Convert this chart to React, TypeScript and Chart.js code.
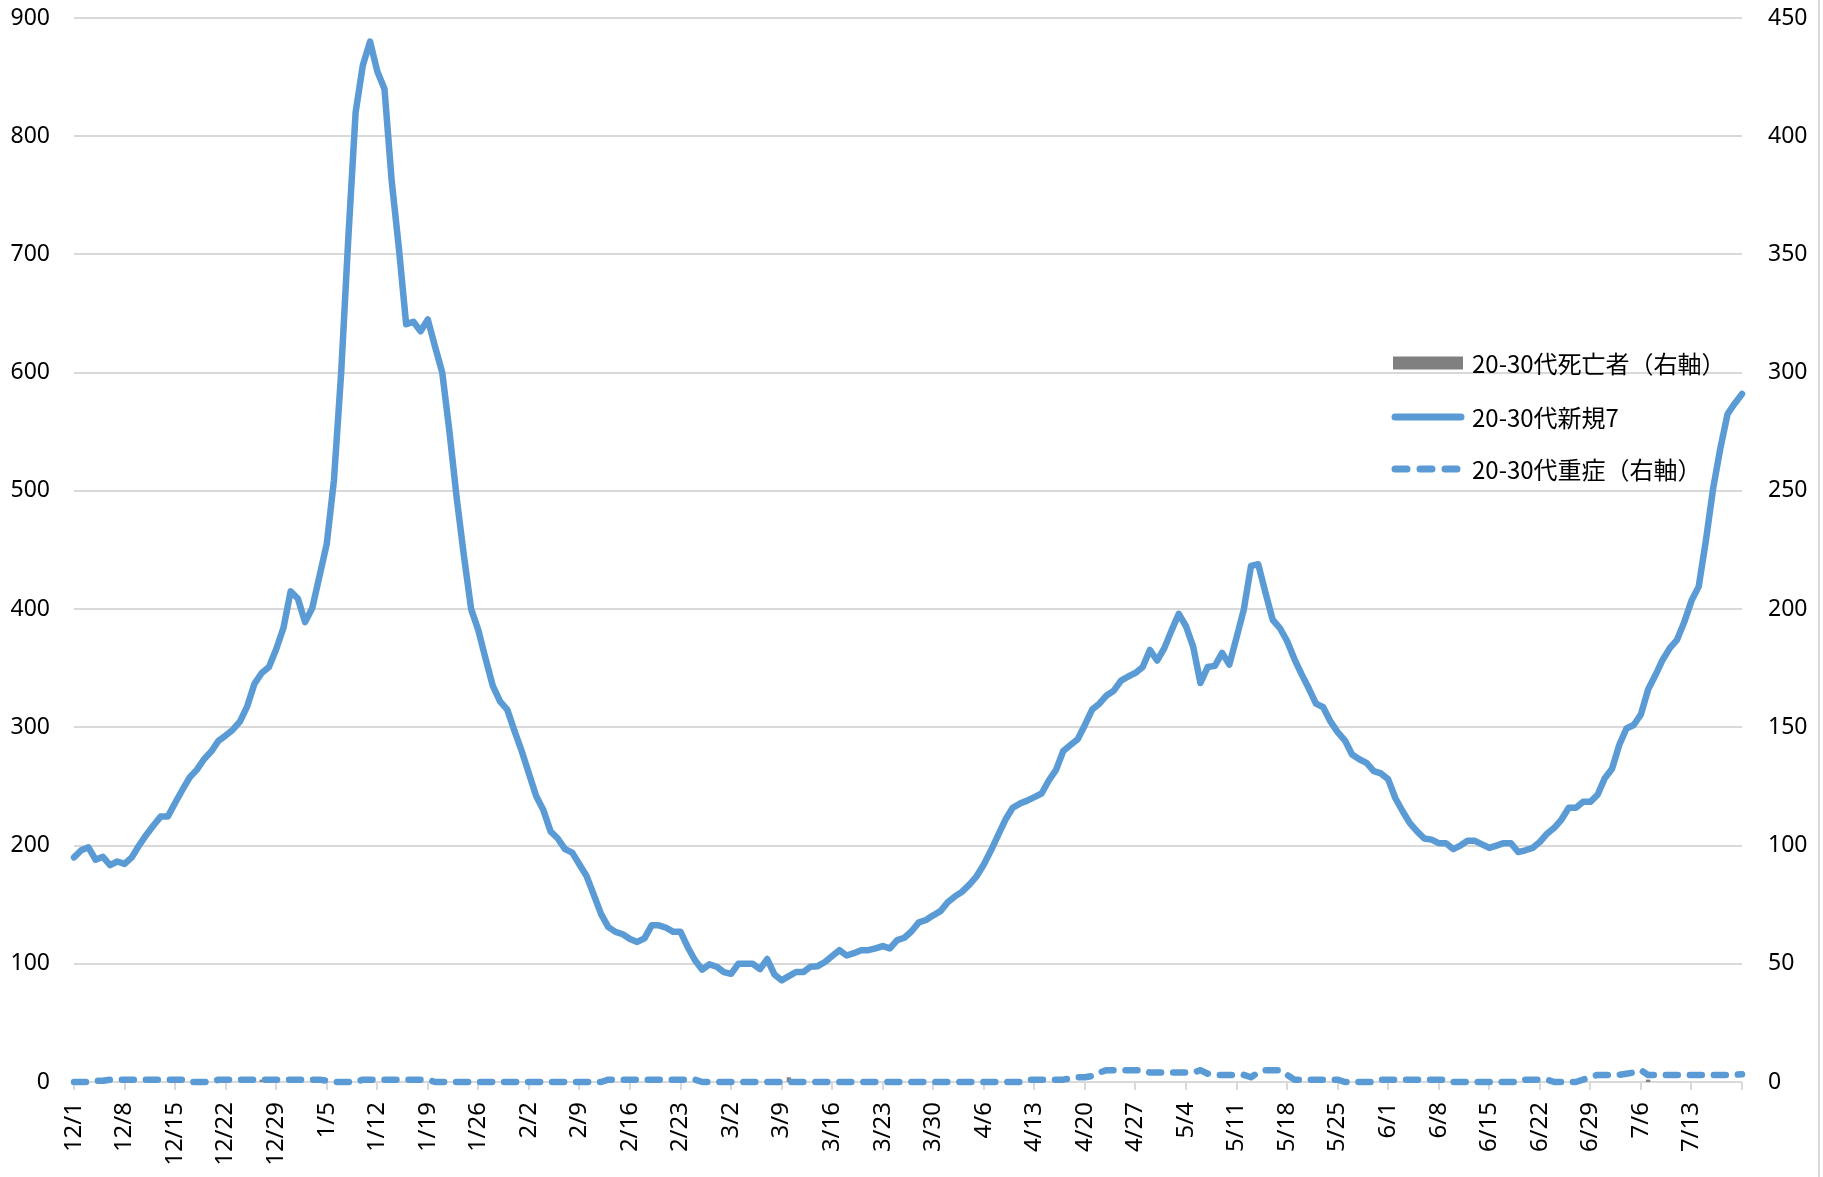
import React, { useEffect, useRef } from "react";
import { Chart, registerables } from "chart.js";

Chart.register(...registerables);

// ---------- data ----------
// daily categories 2021-12-01 .. 2022-07-20
const categories: string[] = [];
for (let i = 0; i < 232; i++) {
  const d = new Date(2021, 11, 1 + i);
  categories.push(`${d.getMonth() + 1}/${d.getDate()}`);
}
const LABEL_EVERY = 7;
const LAST_LABEL_INDEX = 224; // 7/13

const seriesNames = ["20-30代死亡者（右軸）", "20-30代新規7", "20-30代重症（右軸）"];

// 20-30代新規7 (left axis)
const newCases7: number[] = [
  190, 196, 198.5, 188, 190.5, 183.5, 186.5, 184.5, 190, 200,
  209, 217, 224.5, 224.5, 236, 247, 257.5, 264, 273, 279.5,
  288.5, 293, 298, 305, 318, 337, 346, 351, 366, 384,
  415, 409, 389, 401, 428, 455, 509, 600, 715, 820,
  860, 880, 855, 840, 762, 705, 641, 643, 635, 645,
  622, 600, 550, 494, 445, 400, 382, 358, 335, 322,
  315, 297, 280, 261, 242, 230, 212, 206, 197, 194,
  184, 174, 158, 142, 131, 127, 125, 121, 118.5, 121.5,
  132.5, 132.5, 130.5, 127, 127, 114, 103, 95, 99.5, 97.5,
  93, 91.5, 100, 100, 100, 95.5, 104, 91, 86, 89.5,
  93, 93, 97.5, 98, 101.5, 106.5, 111.5, 107, 109, 111.5,
  111.5, 113, 115, 113, 120, 122, 127.5, 135, 137, 141,
  144.5, 152, 157, 161, 167, 174, 184, 196, 209, 222,
  232, 235.5, 238, 241, 244, 255, 264, 280, 285, 290,
  302, 315, 320, 327, 331, 339.5, 343, 346, 351, 365.5,
  356.5, 367, 382, 396, 385.5, 368, 337.5, 351, 352, 363,
  353, 376, 399.5, 436.5, 438, 414, 391, 384, 373, 358,
  345, 333, 320, 317, 305, 296, 289, 277, 273, 270,
  263, 261, 256, 240, 229, 219, 212, 206, 205, 202,
  202, 197, 200, 204, 204, 201, 198, 200, 202, 202,
  194.5, 196, 198, 203, 210, 215, 222, 232, 232, 237,
  237, 243, 257, 265, 285, 299, 302, 311, 332, 344,
  357, 367, 374, 389, 407, 419, 458, 502, 536, 565,
  574, 582,
];

// 20-30代重症 (right axis)
const severeRight: number[] = [
  0, 0, 0, 0.5, 0.5, 1, 1, 1, 1, 1,
  1, 1, 1, 1, 1, 1, 0, 0, 0, 0,
  1, 1, 1, 1, 1, 1, 1, 1, 1, 1,
  1, 1, 1, 1, 1, 0.5, 0, 0, 0, 0,
  1, 1, 1, 1, 1, 1, 1, 1, 1, 1,
  0, 0, 0, 0, 0, 0, 0, 0, 0, 0,
  0, 0, 0, 0, 0, 0, 0, 0, 0, 0,
  0, 0, 0, 0, 1, 1, 1, 1, 1, 1,
  1, 1, 1, 1, 1, 1, 1, 0, 0, 0,
  0, 0, 0, 0, 0, 0, 0, 0, 0, 0,
  0, 0, 0, 0, 0, 0, 0, 0, 0, 0,
  0, 0, 0, 0, 0, 0, 0, 0, 0, 0,
  0, 0, 0, 0, 0, 0, 0, 0, 0, 0,
  0, 0, 1, 1, 1, 1, 1, 1, 1.5, 2,
  2, 2.5, 4, 5, 5, 5, 5, 5, 5, 4,
  4, 4, 4, 4, 4, 4, 5, 3.5, 3, 3,
  3, 3, 3, 2, 4, 5, 5, 5, 3, 1,
  1, 1, 1, 1, 1, 1, 0, 0, 0, 0,
  0, 1, 1, 1, 1, 1, 1, 1, 1, 1,
  1, 0, 0, 0, 0, 0, 0, 0, 0, 0,
  0, 1, 1, 1, 1, 0, 0, 0, 0, 1,
  2, 3, 3, 3, 3, 3.5, 4, 5, 3, 3,
  3, 3, 3, 3, 3, 3, 3, 3, 3, 3,
  3, 3.3,
];

// 20-30代死亡者 (right axis)
const deathsRight: number[] = new Array(232).fill(0);
const deathDays: number[] = [26, 40, 50, 99, 218];
const deathCounts: number[] = [1, 1, 1, 2, 1];
deathDays.forEach((d, k) => (deathsRight[d] = deathCounts[k]));

// ---------- styles ----------
const BLUE = "#5B9BD5";
const GRAY = "#808080";
const GRID = "#d9d9d9";
const TEXT = "#000000";

const legendPlugin = {
  id: "customLegend",
  afterDraw(chart: any) {
    const ctx = chart.ctx as CanvasRenderingContext2D;
    const x0 = 1393;
    const x1 = 1463;
    const tx = 1472;
    const rows = [363, 417, 469];
    ctx.save();
    // bar sample
    ctx.fillStyle = GRAY;
    ctx.fillRect(x0, rows[0] - 6.5, x1 - x0, 13);
    // solid line sample
    ctx.strokeStyle = BLUE;
    ctx.lineWidth = 7;
    ctx.lineCap = "round";
    ctx.beginPath();
    ctx.moveTo(x0 + 2, rows[1]);
    ctx.lineTo(x1 - 2, rows[1]);
    ctx.stroke();
    // dashed sample
    ctx.setLineDash([12, 13]);
    ctx.beginPath();
    ctx.moveTo(x0 + 2, rows[2]);
    ctx.lineTo(x1 - 6, rows[2]);
    ctx.stroke();
    ctx.setLineDash([]);
    // labels
    ctx.fillStyle = TEXT;
    ctx.font = '24px "Noto Sans CJK JP", "Noto Sans", sans-serif';
    ctx.textBaseline = "middle";
    ctx.textAlign = "left";
    seriesNames.forEach((n, k) => ctx.fillText(n, tx, rows[k] + 1));
    // outer chart border on the right
    ctx.strokeStyle = GRID;
    ctx.lineWidth = 2;
    ctx.beginPath();
    ctx.moveTo(1819, 0);
    ctx.lineTo(1819, 1177);
    ctx.stroke();
    ctx.restore();
  },
};

export default function App() {
  const ref = useRef<HTMLCanvasElement>(null);

  useEffect(() => {
    const canvas = ref.current;
    if (!canvas) return;
    const tickFont = { family: '"Noto Sans", sans-serif', size: 23 };
    const chart = new Chart(canvas, {
      type: "line",
      data: {
        labels: categories,
        datasets: [
          {
            type: "bar",
            label: seriesNames[0],
            data: deathsRight,
            backgroundColor: GRAY,
            yAxisID: "y1",
            order: 3,
            barPercentage: 0.6,
            categoryPercentage: 1,
          } as any,
          {
            type: "line",
            label: seriesNames[1],
            data: newCases7,
            borderColor: BLUE,
            backgroundColor: BLUE,
            borderWidth: 6.5,
            pointRadius: 0,
            tension: 0,
            borderJoinStyle: "round",
            borderCapStyle: "round",
            yAxisID: "y",
            order: 1,
            clip: false,
          } as any,
          {
            type: "line",
            label: seriesNames[2],
            data: severeRight,
            borderColor: BLUE,
            backgroundColor: BLUE,
            borderWidth: 6.5,
            borderDash: [12, 12],
            borderCapStyle: "round",
            borderJoinStyle: "round",
            pointRadius: 0,
            tension: 0,
            yAxisID: "y1",
            order: 2,
            clip: false,
          } as any,
        ],
      },
      options: {
        responsive: false,
        animation: false,
        devicePixelRatio: 1,
        layout: { padding: { top: 18, left: 0, right: 0, bottom: 0 } },
        plugins: {
          legend: { display: false },
          tooltip: { enabled: false },
          title: { display: false },
        },
        scales: {
          x: {
            type: "category",
            offset: false,
            afterFit: (s: any) => {
              s.height = 95;
              s.paddingLeft = 0;
              s.paddingRight = 0;
            },
            grid: {
              display: true,
              offset: false,
              drawOnChartArea: false,
              drawTicks: true,
              tickLength: 8,
              lineWidth: 2,
              color: (c: any) => (c.index % LABEL_EVERY === 0 ? GRID : "rgba(0,0,0,0)"),
            },
            border: { display: false },
            ticks: {
              autoSkip: false,
              maxRotation: 90,
              minRotation: 90,
              padding: 12,
              color: TEXT,
              font: { family: '"Noto Sans", sans-serif', size: 24 },
              callback: (_v: any, index: number) =>
                index % LABEL_EVERY === 0 && index <= LAST_LABEL_INDEX ? categories[index] : "",
            },
          },
          y: {
            position: "left",
            min: 0,
            max: 900,
            afterFit: (s: any) => {
              s.width = 74;
              s.paddingTop = 0;
              s.paddingBottom = 0;
            },
            grid: { color: GRID, lineWidth: 2, drawTicks: false },
            border: { display: false },
            ticks: { stepSize: 100, padding: 24, color: TEXT, font: tickFont },
          },
          y1: {
            position: "right",
            min: 0,
            max: 450,
            afterFit: (s: any) => {
              s.width = 81;
              s.paddingTop = 0;
              s.paddingBottom = 0;
            },
            grid: { display: false, drawOnChartArea: false, drawTicks: false },
            border: { display: false },
            ticks: { stepSize: 50, padding: 26, color: TEXT, font: tickFont },
          },
        },
      } as any,
      plugins: [legendPlugin],
    });
    return () => chart.destroy();
  }, []);

  return (
    <div
      style={{
        position: "absolute",
        left: 0,
        top: 0,
        width: 1823,
        height: 1177,
        background: "#ffffff",
      }}
    >
      <canvas
        ref={ref}
        width={1823}
        height={1177}
        style={{ display: "block", width: 1823, height: 1177 }}
      />
    </div>
  );
}
